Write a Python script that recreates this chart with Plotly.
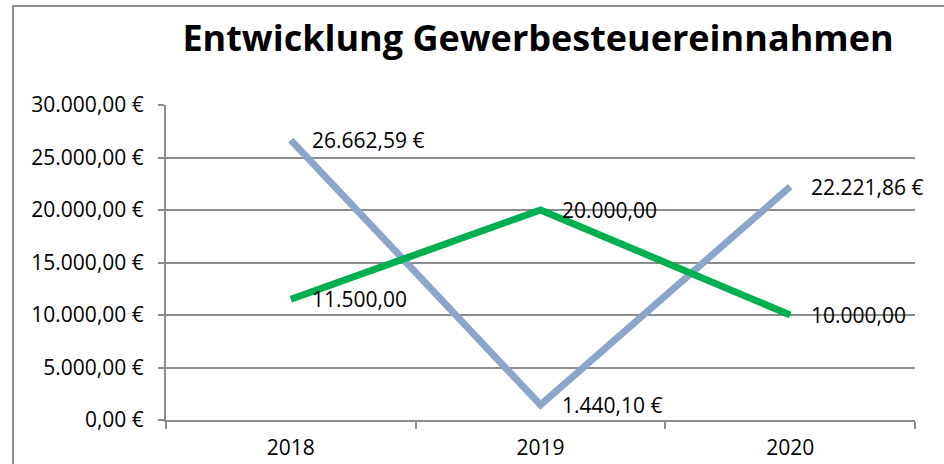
import plotly.graph_objects as go

years = ["2018", "2019", "2020"]
series_blue = [26662.59, 1440.10, 22221.86]
series_green = [11500.00, 20000.00, 10000.00]
y_max = 30000
y_step = 5000

FONT = "Open Sans"
fig = go.Figure()
fig.add_trace(go.Scatter(
    x=years, y=series_blue, mode="lines",
    line=dict(color="#8EA5CB", width=7),
    cliponaxis=False, showlegend=False, hoverinfo="skip",
))
fig.add_trace(go.Scatter(
    x=years, y=series_green, mode="lines",
    line=dict(color="#00B050", width=7),
    cliponaxis=False, showlegend=False, hoverinfo="skip",
))

def fmt(v, euro):
    s = f"{v:,.2f}".replace(",", "X").replace(".", ",").replace("X", ".")
    return s + (" €" if euro else "")

for ys, euro in [(series_blue, True), (series_green, False)]:
    for i, y in enumerate(ys):
        fig.add_annotation(x=i, y=y, xref="x", yref="y", text=fmt(y, euro),
                           showarrow=False, xanchor="left", yanchor="middle",
                           xshift=19,
                           font=dict(family=FONT, size=21, color="black"))

fig.update_layout(
    width=944, height=464,
    margin=dict(l=166, r=29, t=105, b=44, autoexpand=False),
    paper_bgcolor="white", plot_bgcolor="white",
    separators=",.",
    font=dict(family=FONT, size=21, color="black"),
    title=dict(text="<b>Entwicklung Gewerbesteuereinnahmen</b>",
               x=538/944, xanchor="center", xref="container",
               y=1-38/464, yanchor="middle",
               font=dict(family=FONT, size=36, color="black")),
    xaxis=dict(type="category", range=[-0.5, 2.5], showgrid=False,
               showline=True, linecolor="#8C8C8C", linewidth=2,
               ticks="outside", tickson="boundaries", ticklen=7,
               tickcolor="#8C8C8C", tickwidth=2, ticklabelstandoff=8,
               automargin=False,
               tickfont=dict(family=FONT, size=21)),
    yaxis=dict(range=[0, y_max], tick0=0, dtick=y_step, tickformat=",.2f",
               ticksuffix=" €", showticksuffix="all",
               showgrid=True, gridcolor="#8C8C8C", gridwidth=2,
               showline=True, linecolor="#8C8C8C", linewidth=2,
               ticks="outside", ticklen=6, tickcolor="#8C8C8C", tickwidth=2,
               ticklabelstandoff=10, automargin=False,
               zeroline=False, tickfont=dict(family=FONT, size=21)),
)
fig.add_shape(type="rect", xref="paper", yref="paper",
              x0=(13-166)/749, x1=(960-166)/749,
              y0=(420-480)/315, y1=(420-6)/315,
              line=dict(color="#8C8C8C", width=2), layer="below")
fig.write_html("out.html", config={"displayModeBar": False},
               post_script="document.body.style.margin='0';")
